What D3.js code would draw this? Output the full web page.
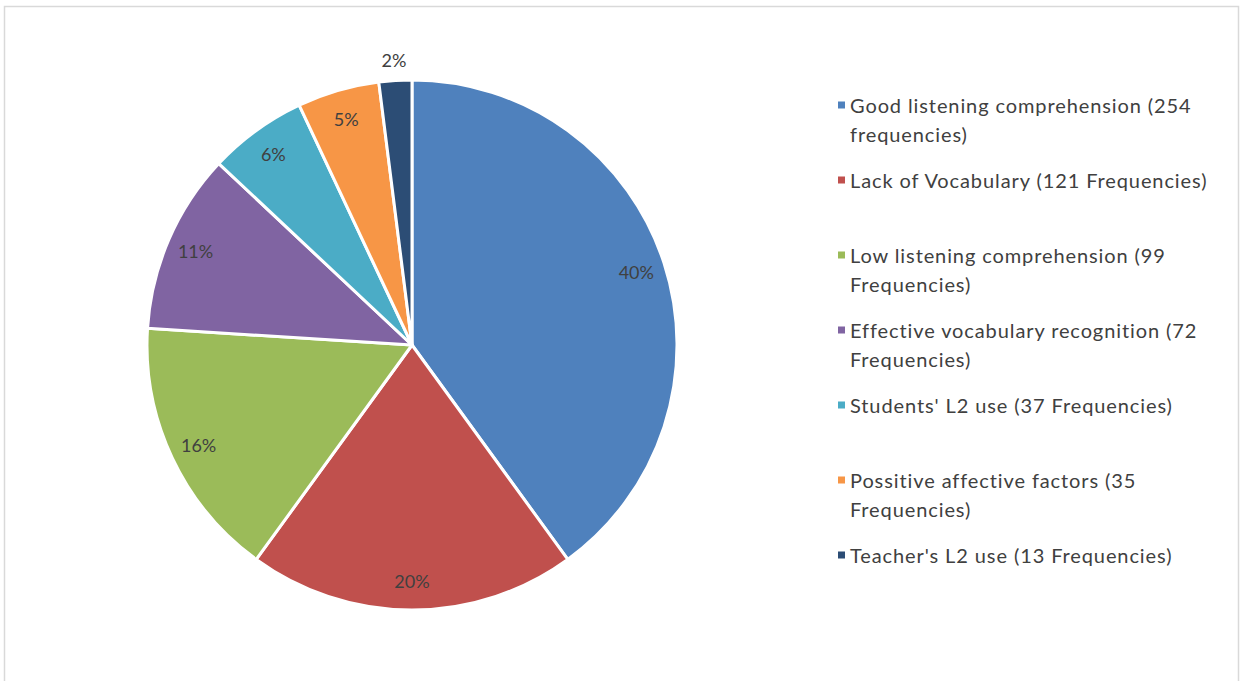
<!DOCTYPE html>
<html>
<head>
<meta charset="utf-8">
<script src="https://cdn.jsdelivr.net/npm/d3@7"></script>
<style>
  body { margin: 0; background: #fff; }
  svg { display: block; }
</style>
</head>
<body>
<div id="chart"></div>
<script>
// Slice shares (percent shown on the pie) and legend text
const categories = [
  'Good listening comprehension', 'Lack of Vocabulary', 'Low listening comprehension',
  'Effective vocabulary recognition', "Students' L2 use", 'Possitive affective factors',
  "Teacher's L2 use",
];
const percents = [40, 20, 16, 11, 6, 5, 2];
const frequencies = [254, 121, 99, 72, 37, 35, 13];
const legendLines = [
  ['Good listening comprehension (254', 'frequencies)'],
  ['Lack of Vocabulary (121 Frequencies)'],
  ['Low listening comprehension (99', 'Frequencies)'],
  ['Effective vocabulary recognition (72', 'Frequencies)'],
  ["Students' L2 use (37 Frequencies)"],
  ['Possitive affective factors (35', 'Frequencies)'],
  ["Teacher's L2 use (13 Frequencies)"],
];
const colors = ['#4F81BD', '#C0504D', '#9BBB59', '#8064A2', '#4BACC6', '#F79646', '#2C4D75'];

const W = 1241, H = 681;
const cx = 412, cy = 345, R = 265;
const FONT = 'Lato, "Open Sans", sans-serif';

const svg = d3.select('#chart').append('svg')
  .attr('width', W).attr('height', H);

// chart frame
svg.append('rect')
  .attr('x', 4.5).attr('y', 6.5).attr('width', 1234).attr('height', 690)
  .attr('fill', '#fff').attr('stroke', '#d9d9d9').attr('stroke-width', 1.5);

const data = categories.map((c, i) => ({ cat: c, pct: percents[i], freq: frequencies[i], i }));

const pie = d3.pie().value(d => d.pct).sort(null);
const arcs = pie(data);
const arc = d3.arc().innerRadius(0).outerRadius(R);

const g = svg.append('g').attr('transform', `translate(${cx},${cy})`);

g.selectAll('path.slice')
  .data(arcs)
  .join('path')
  .attr('class', 'slice')
  .attr('d', arc)
  .attr('fill', d => colors[d.data.i])
  .attr('stroke', '#fff')
  .attr('stroke-width', 3)
  .attr('stroke-linejoin', 'round');

// percent labels: inside near the rim, small slice outside
const labelArc = d3.arc().innerRadius(R * 0.89).outerRadius(R * 0.89);
const outArc = d3.arc().innerRadius(R + 21).outerRadius(R + 21);

g.selectAll('text.pct')
  .data(arcs)
  .join('text')
  .attr('class', 'pct')
  .attr('transform', d => `translate(${(d.data.pct < 3 ? outArc : labelArc).centroid(d)})`)
  .attr('text-anchor', 'middle')
  .attr('dominant-baseline', 'central')
  .attr('font-family', FONT)
  .attr('font-size', 18)
  .attr('fill', '#404040')
  .text(d => d.data.pct + '%');

// legend
const legend = svg.append('g').attr('transform', 'translate(838,0)');
const itemY = d3.scalePoint().domain(d3.range(categories.length)).range([105, 555]);

const items = legend.selectAll('g.item')
  .data(data)
  .join('g')
  .attr('class', 'item')
  .attr('transform', d => `translate(0,${itemY(d.i)})`);

items.append('rect')
  .attr('x', 0).attr('y', -3.5)
  .attr('width', 7).attr('height', 7)
  .attr('fill', d => colors[d.i]);

items.append('text')
  .attr('font-family', FONT)
  .attr('font-size', 20)
  .attr('letter-spacing', 0.9)
  .attr('fill', '#404040')
  .selectAll('tspan')
  .data(d => legendLines[d.i])
  .join('tspan')
  .attr('x', 12)
  .attr('y', (d, j) => j * 29)
  .attr('dominant-baseline', 'central')
  .text(d => d);
</script>
</body>
</html>
